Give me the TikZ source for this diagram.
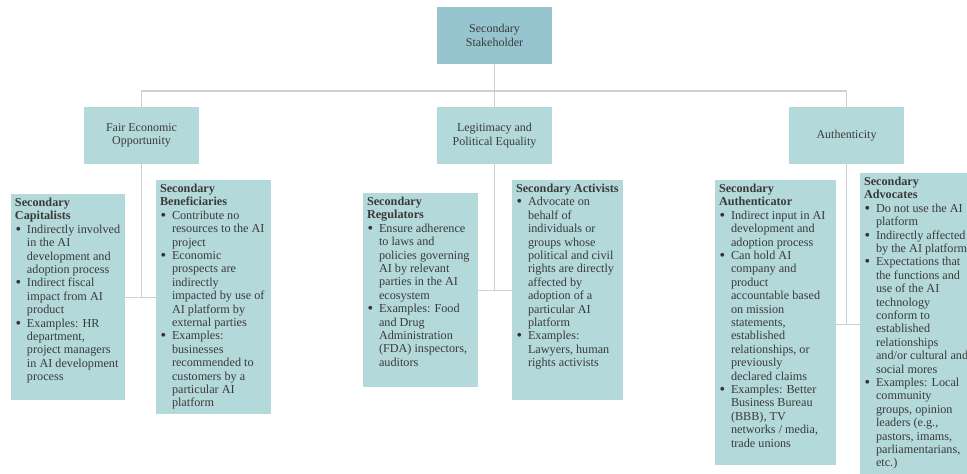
\documentclass[tikz,border=0pt]{standalone}
\usepackage{fontspec}
\setmainfont{Liberation Serif}
\definecolor{topfill}{RGB}{150,196,207}
\definecolor{boxfill}{RGB}{180,217,219}
\definecolor{linegray}{RGB}{208,208,208}
\definecolor{txt}{RGB}{58,58,58}
\newcommand\bul[1]{\par{\let\\\newline\noindent\hangindent=12pt\hangafter=1\makebox[12pt][l]{\hspace{0.5pt}\color{black!80}\smash{\raisebox{-1pt}{\scalebox{1.3}{\textbullet}}}}#1\par}}
\newcommand\leafbox[3]{\parbox[t][#2][t]{#1}{\raggedright #3}}
\tikzset{
  leaf/.style={anchor=north west, fill=boxfill, inner xsep=4pt, inner ysep=4pt, text=txt,
    font=\fontsize{12.2}{13.4}\selectfont, outer sep=0pt},
  cat/.style={anchor=north west, fill=boxfill, minimum width=115pt, minimum height=57pt,
    align=center, text=txt, font=\fontsize{12}{13.5}\selectfont, inner sep=0pt, outer sep=0pt},
  root/.style={cat, fill=topfill},
  trunk/.style={draw=linegray, line width=1.6pt},
  twig/.style={draw=linegray, line width=1pt}
}
\begin{document}
\begin{tikzpicture}[x=1pt,y=-1pt]
\useasboundingbox (0,0) rectangle (967,474);
\fill[white] (0,0) rectangle (967,474);
\clip (0,0) rectangle (967,474);

\node[root] (root) at (437,7) {Secondary\\Stakeholder};
\node[cat] (fair) at (84,107) {Fair Economic\\Opportunity};
\node[cat] (leg) at (437,107) {Legitimacy and\\Political Equality};
\node[cat] (auth) at (789,107) {Authenticity};

\coordinate (bus) at (494,91);
\draw[trunk] (root.south) -- (leg.north);
\draw[trunk] (fair.north) -- (fair.north |- bus) -- (auth.north |- bus) -- (auth.north);

\node[leaf] (cap) at (11,194) {\leafbox{106pt}{198pt}{%
\textbf{Secondary}\\\textbf{Capitalists}
\bul{Indirectly involved\\in the AI\\development and\\adoption process}
\bul{Indirect fiscal\\impact from AI\\product}
\bul{Examples: HR\\department,\\project managers\\in AI development\\process}}};

\node[leaf] (ben) at (156,180) {\leafbox{107pt}{226pt}{%
\textbf{Secondary}\\\textbf{Beneficiaries}
\bul{Contribute no\\resources to the AI\\project}
\bul{Economic\\prospects are\\indirectly\\impacted by use of\\AI platform by\\external parties}
\bul{Examples:\\businesses\\recommended to\\customers by a\\particular AI\\platform}}};

\node[leaf] (reg) at (363,193) {\leafbox{107pt}{186pt}{%
\textbf{Secondary}\\\textbf{Regulators}
\bul{Ensure adherence\\to laws and\\policies governing\\AI by relevant\\parties in the AI\\ecosystem}
\bul{Examples: Food\\and Drug\\Administration\\(FDA) inspectors,\\auditors}}};

\node[leaf] (act) at (512,180) {\leafbox{103pt}{212pt}{%
\mbox{\textbf{Secondary Activists}}
\bul{Advocate on\\behalf of\\individuals or\\groups whose\\political and civil\\rights are directly\\affected by\\adoption of a\\particular AI\\platform}
\bul{Examples:\\Lawyers, human\\rights activists}}};

\node[leaf] (autr) at (715,180) {\leafbox{113pt}{277pt}{%
\textbf{Secondary}\\\textbf{Authenticator}
\bul{Indirect input in AI\\development and\\adoption process}
\bul{Can hold AI\\company and\\product\\accountable based\\on mission\\statements,\\established\\relationships, or\\previously\\declared claims}
\bul{Examples: Better\\Business Bureau\\(BBB), TV\\networks / media,\\trade unions}}};

\node[leaf] (adv) at (860,173) {\leafbox{107pt}{312pt}{%
\textbf{Secondary}\\\textbf{Advocates}
\bul{Do not use the AI\\platform}
\bul{Indirectly affected\\by the AI platform}
\bul{Expectations that\\the functions and\\use of the AI\\technology\\conform to\\established\\relationships\\and/or cultural and\\social mores}
\bul{Examples: Local\\community\\groups, opinion\\leaders (e.g.,\\pastors, imams,\\parliamentarians,\\etc.)}}};

\coordinate (j1) at (141.5,297);
\coordinate (j2) at (494.5,290);
\coordinate (j3) at (846.5,324);
\draw[twig] (fair.south) -- (j1);
\draw[twig] (cap.east |- j1) -- (ben.west |- j1);
\draw[twig] (leg.south) -- (j2);
\draw[twig] (reg.east |- j2) -- (act.west |- j2);
\draw[twig] (auth.south) -- (j3);
\draw[twig] (autr.east |- j3) -- (adv.west |- j3);
\end{tikzpicture}
\end{document}
